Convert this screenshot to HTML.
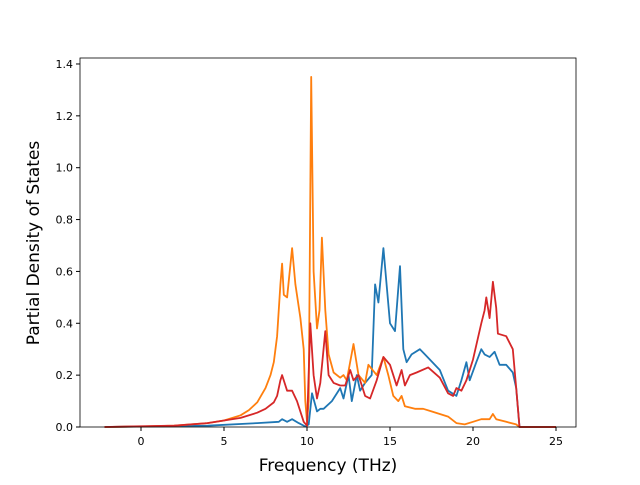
<!DOCTYPE html>
<html><head><meta charset="utf-8">
<style>
body{margin:0;background:#fff;font-family:"Liberation Sans","DejaVu Sans",sans-serif;}
svg text{font-family:"DejaVu Sans","Liberation Sans",sans-serif;fill:#000;}
</style></head>
<body>
<svg id="chart" width="640" height="480" viewBox="0 0 640 480" xmlns="http://www.w3.org/2000/svg">
<rect width="640" height="480" fill="#fff"/>
<g id="series"></g>
<rect x="80" y="58" width="496" height="369" fill="none" stroke="#000" stroke-width="0.8"/>
<g id="xticks"></g>
<g id="yticks"></g>
<text x="328" y="471" font-size="17" text-anchor="middle">Frequency (THz)</text>
<text x="39" y="243" font-size="17" text-anchor="middle" transform="rotate(-90 39 243)">Partial Density of States</text>
</svg>
<script>
const xTicks=[0,5,10,15,20,25];
const yTicks=[0.0,0.2,0.4,0.6,0.8,1.0,1.2,1.4];
const blueFreq=[-2.2,4,7,8.3,8.5,8.8,9.1,9.5,9.9,10.1,10.3,10.6,10.8,11,11.5,12,12.2,12.5,12.7,13,13.2,13.5,13.9,14.1,14.3,14.6,15,15.3,15.6,15.8,16,16.3,16.8,17.1,18,18.5,19,19.3,19.6,19.8,20.2,20.5,20.7,21,21.3,21.6,22,22.4,22.6,22.8,25];
const blueVals=[0,0.005,0.015,0.02,0.03,0.02,0.03,0.015,0.002,0.01,0.13,0.06,0.07,0.07,0.1,0.15,0.11,0.2,0.1,0.2,0.14,0.17,0.2,0.55,0.48,0.69,0.4,0.37,0.62,0.3,0.25,0.28,0.3,0.28,0.22,0.14,0.12,0.18,0.25,0.18,0.25,0.3,0.28,0.27,0.29,0.24,0.24,0.21,0.15,0,0];
const orangeFreq=[-2.2,0,2,4,5,6,6.5,7,7.5,7.8,8,8.2,8.4,8.5,8.6,8.8,9.1,9.3,9.6,9.8,9.9,10.0,10.1,10.25,10.4,10.6,10.75,10.9,11.1,11.3,11.6,12,12.2,12.4,12.8,13.1,13.5,13.7,14.2,14.6,14.9,15.2,15.5,15.7,15.9,16.5,17,17.5,18,18.5,19,19.5,20,20.5,21,21.2,21.4,22,22.6,22.8,25];
const orangeVals=[0,0.002,0.005,0.015,0.025,0.045,0.065,0.095,0.15,0.2,0.25,0.35,0.55,0.63,0.51,0.5,0.69,0.55,0.42,0.3,0.1,0.02,0.1,1.35,0.6,0.38,0.45,0.73,0.45,0.28,0.21,0.19,0.2,0.18,0.32,0.2,0.17,0.24,0.2,0.27,0.2,0.12,0.1,0.12,0.08,0.07,0.07,0.06,0.05,0.04,0.015,0.01,0.02,0.03,0.03,0.05,0.03,0.02,0.01,0,0];
const redFreq=[-2.2,2,4,6,7,7.5,8,8.2,8.4,8.5,8.8,9.1,9.4,9.8,10,10.2,10.4,10.6,10.8,11.1,11.3,11.6,12,12.3,12.6,12.8,13.1,13.5,13.8,14.2,14.6,15,15.4,15.7,15.9,16.2,16.6,17.3,18,18.5,18.8,19,19.3,19.6,20,20.5,20.7,20.8,21,21.2,21.4,21.5,22,22.4,22.6,22.8,25];
const redVals=[0,0.005,0.015,0.035,0.055,0.07,0.095,0.12,0.18,0.2,0.14,0.14,0.1,0.02,0.005,0.4,0.2,0.11,0.17,0.37,0.2,0.17,0.16,0.16,0.22,0.18,0.2,0.12,0.11,0.18,0.27,0.24,0.16,0.22,0.16,0.2,0.21,0.23,0.19,0.13,0.12,0.15,0.14,0.18,0.26,0.4,0.45,0.5,0.42,0.56,0.46,0.36,0.35,0.3,0.15,0,0];

const X0=80,X1=576,Y0=427,Y1=58;
const xMin=-3.675,xMax=26.205,yMin=0,yMax=(427-58)/259.3;
const sx=v=>X0+(v-xMin)/(xMax-xMin)*(X1-X0);
const sy=v=>Y0-(v-yMin)/(yMax-yMin)*(Y0-Y1);
const NS="http://www.w3.org/2000/svg";
const series=[["pdos-blue",blueFreq,blueVals,"#1f77b4"],["pdos-orange",orangeFreq,orangeVals,"#ff7f0e"],["pdos-red",redFreq,redVals,"#d62728"]];
const sg=document.getElementById('series');
series.forEach(s=>{
  const p=document.createElementNS(NS,'polyline');
  
  
  p.setAttribute('points',s[1].map((f,i)=>sx(f).toFixed(1)+','+sy(s[2][i]).toFixed(1)).join(' '));
  p.setAttribute('fill','none');p.setAttribute('stroke',s[3]);p.setAttribute('stroke-width','1.8');
  p.setAttribute('stroke-linejoin','round');
  sg.appendChild(p);
});
const xg=document.getElementById('xticks');
xTicks.forEach(t=>{
  const l=document.createElementNS(NS,'line');
  
  
  l.setAttribute('x1',sx(t));l.setAttribute('x2',sx(t));l.setAttribute('y1',Y0);l.setAttribute('y2',Y0+4);l.setAttribute('stroke','#000');
  xg.appendChild(l);
  const tx=document.createElementNS(NS,'text');
  
  
  tx.setAttribute('x',sx(t));tx.setAttribute('y',Y0+18);tx.setAttribute('font-size','11');tx.setAttribute('text-anchor','middle');
  tx.textContent=t;xg.appendChild(tx);
});
const yg=document.getElementById('yticks');
yTicks.forEach(t=>{
  const l=document.createElementNS(NS,'line');
  
  
  l.setAttribute('x1',X0-4);l.setAttribute('x2',X0);l.setAttribute('y1',sy(t));l.setAttribute('y2',sy(t));l.setAttribute('stroke','#000');
  yg.appendChild(l);
  const tx=document.createElementNS(NS,'text');
  
  
  tx.setAttribute('x',X0-7);tx.setAttribute('y',sy(t)+4);tx.setAttribute('font-size','11');tx.setAttribute('text-anchor','end');
  tx.textContent=t.toFixed(1);yg.appendChild(tx);
});
</script>
</body></html>
